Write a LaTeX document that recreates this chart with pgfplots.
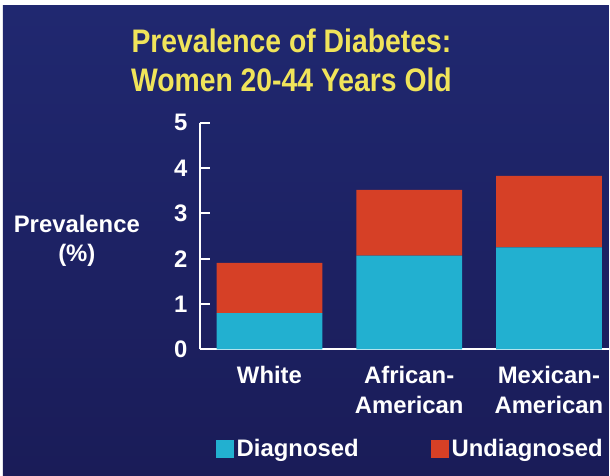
\documentclass[border=0pt]{standalone}
\usepackage{pgfplots}
\pgfplotsset{compat=1.18}
\usepackage{fontspec}
\setmainfont{Liberation Sans}
\definecolor{bgtop}{RGB}{32,40,112}
\definecolor{bgbot}{RGB}{26,28,88}
\definecolor{cyanbar}{RGB}{34,176,208}
\definecolor{redbar}{RGB}{214,64,38}
\definecolor{titley}{RGB}{240,228,90}
\begin{document}
\begin{tikzpicture}[x=1bp,y=1bp]
\fill[white] (0,0) rectangle (610,476);
\shade[top color=bgtop,bottom color=bgbot] (3,0) rectangle (610,470);
\node[anchor=base, inner sep=0pt, text=titley, font=\fontsize{28.5}{35}\selectfont\bfseries] at (292,423) {\scalebox{1}[1.15]{Prevalence of Diabetes:}};
\node[anchor=base, inner sep=0pt, text=titley, font=\fontsize{28.5}{35}\selectfont\bfseries] at (292,384) {\scalebox{1}[1.15]{Women 20-44 Years Old}};
\node[anchor=base, inner sep=0pt, text=white, font=\fontsize{24}{29}\selectfont\bfseries] at (77,243) {Prevalence};
\node[anchor=base, inner sep=0pt, text=white, font=\fontsize{24}{29}\selectfont\bfseries] at (77,214) {(\%)};
\begin{axis}[
  at={(200bp,126bp)}, anchor=south west,
  x=140bp, y=45.4bp,
  xmin=-0.5, xmax=2.43, ymin=0, ymax=5,
  ybar stacked, bar width=106bp,
  axis x line*=bottom, axis y line*=left,
  axis line style={white, line width=2bp},
  xtick={0,1,2},
  xticklabels={White, {African-\\American}, {Mexican-\\American}},
  xtick style={draw=none},
  ytick={0,1,2,3,4,5},
  ytick style={white, line width=1.8bp},
  major tick length=10bp,
  tick align=inside,
  /pgf/number format/assume math mode=true,
  ticklabel style={text=white, font=\fontsize{24}{30}\selectfont\bfseries},
  xticklabel style={align=center, inner sep=0pt, yshift=-17bp},
  yticklabel style={inner sep=0pt, xshift=-12bp},
  legend columns=2,
  legend style={at={(rel axis cs:0,0)}, anchor=west, xshift=13bp, yshift=-99.5bp,
    draw=none, fill=none, text=white, font=\fontsize{24}{29}\selectfont\bfseries,
    nodes={inner sep=0pt},
    /tikz/every even column/.append style={column sep=72bp},
    /tikz/every odd column/.append style={column sep=3bp}},
  legend image code/.code={\fill[#1] (0bp,-9bp) rectangle (18bp,9bp);},
]
\addplot[fill=cyanbar, draw=none] coordinates {(0,0.80) (1,2.07) (2,2.25)};
\addplot[fill=redbar, draw=none] coordinates {(0,1.11) (1,1.45) (2,1.58)};
\legend{Diagnosed, Undiagnosed}
\end{axis}
\end{tikzpicture}
\end{document}
